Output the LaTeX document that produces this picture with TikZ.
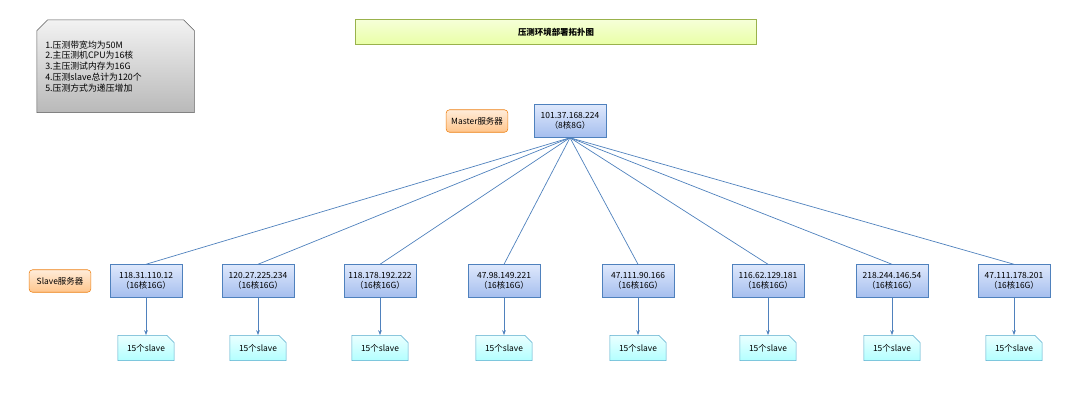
\documentclass[tikz,border=0pt]{standalone}
\usepackage{fontspec}
\setmainfont{Noto Sans CJK SC}
\usetikzlibrary{shapes.misc,arrows.meta}
\definecolor{linkblue}{RGB}{79,129,189}
\definecolor{hosttop}{RGB}{222,232,252}
\definecolor{hostbot}{RGB}{165,190,238}
\tikzset{
  host/.style={draw=linkblue, top color=hosttop, bottom color=hostbot, minimum width=51pt, minimum height=23.4pt, inner sep=1pt, align=center, font=\fontsize{6}{7.5}\selectfont},
  tag/.style={draw=orange!70!brown, rounded corners=2.5, top color=orange!15, bottom color=orange!45, minimum width=44pt, minimum height=16pt, inner sep=1pt, font=\fontsize{6}{7.5}\selectfont},
  worker/.style={chamfered rectangle, chamfered rectangle corners=north east, chamfered rectangle xsep=1.5pt, draw=cyan!60!gray, top color=cyan!8, bottom color=cyan!30, minimum width=40pt, minimum height=18pt, inner sep=1pt, font=\fontsize{6}{7.5}\selectfont},
  link/.style={draw=linkblue, line width=0.5pt},
  feed/.style={draw=linkblue, line width=0.5pt, -{Stealth[length=3.5pt]}}
}
\begin{document}
\begin{tikzpicture}[x=0.025cm, y=-0.025cm]
    \useasboundingbox (0,0) rectangle (1080,404);
    % title and notes
    \node[top color=lime!15, bottom color=lime!35, draw=lime!40!gray, minimum width=285pt, minimum height=18pt, font=\bfseries\fontsize{6}{7.5}\selectfont] (title) at (556,32) {压测环境部署拓扑图};
    \node[chamfered rectangle, chamfered rectangle corners={north east,north west}, chamfered rectangle xsep=4pt, draw=gray!70!black, top color=gray!10, bottom color=gray!55, minimum width=109pt, minimum height=66pt, text width=100pt, align=left, anchor=north west, inner sep=2pt, font=\fontsize{6.3}{7.6}\selectfont] (notes) at (42,25) {1.压测带宽均为50M\\2.主压测机CPU为16核\\3.主压测试内存为16G\\4.压测slave总计为120个\\5.压测方式为递压增加\\[24pt]};

    % master
    \node[tag] (mtag) at (477,121) {Master服务器};
    \node[host] (master) at (570,121) {101.37.168.224\\（8核8G）};
    \node[tag] (stag) at (60,281) {Slave服务器};

    % slaves
    \foreach \i/\x/\ip in {1/146/118.31.110.12, 2/258/120.27.225.234, 3/380/118.178.192.222, 4/504/47.98.149.221, 5/638/47.111.90.166, 6/768/116.62.129.181, 7/892/218.244.146.54, 8/1014/47.111.178.201} {
        \node[host] (s\i) at (\x,281) {\ip\\（16核16G）};
        \node[worker] (w\i) at (\x,348) {15个slave};
        \draw[link] (master.south) -- (s\i.north);
        \draw[feed] (s\i.south) -- (w\i.north);
    }
\end{tikzpicture}
\end{document}
